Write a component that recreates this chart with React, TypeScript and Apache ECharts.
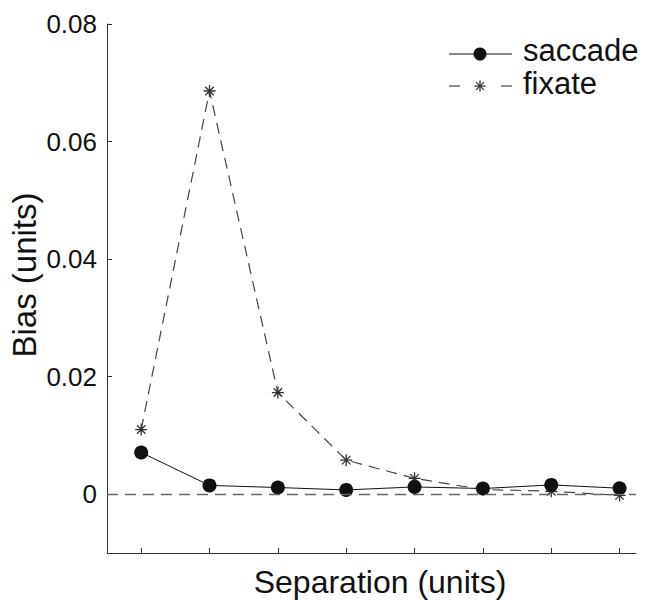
import React, { useEffect, useRef } from "react";
import * as echarts from "echarts";

const separation = [1, 2, 3, 4, 5, 6, 7, 8];
const saccade = [0.0071, 0.0015, 0.00114, 0.00073, 0.00124, 0.00097, 0.00158, 0.00102];
const fixate = [0.011, 0.0686, 0.0173, 0.0058, 0.0027, 0.0008, 0.0005, -0.0002];
const yTicks = [0, 0.02, 0.04, 0.06, 0.08];
const xTicks = [1, 2, 3, 4, 5, 6, 7, 8];
const seriesNames = ["saccade", "fixate"];

const FONT = "'Liberation Sans', Arial, Helvetica, sans-serif";
const STAR = "path://M0,-1L0,1M-1,0L1,0M-0.7071,-0.7071L0.7071,0.7071M-0.7071,0.7071L0.7071,-0.7071";

export default function App() {
  const ref = useRef<HTMLDivElement>(null);
  useEffect(() => {
    if (!ref.current) return;
    const chart = echarts.init(ref.current, null, { renderer: "svg" });
    const sacData = separation.map((x, i) => [x, saccade[i]]);
    const fixData = separation.map((x, i) => [x, fixate[i]]);
    const lx = 449, rx = 512, mx = 480, y1 = 54, y2 = 86;
    const s = 5.5;
    const d = s * 0.7071;
    const starColor = "#333";
    chart.setOption({
      animation: false,
      backgroundColor: "#fff",
      grid: { left: 107, right: 10, top: 24, bottom: 47, containLabel: false },
      xAxis: {
        type: "value",
        min: 0.5,
        max: 8.24,
        axisLine: { show: true, onZero: false, lineStyle: { color: "#333", width: 1 } },
        axisTick: { show: true, inside: true, length: 5, customValues: xTicks, lineStyle: { color: "#333" } },
        axisLabel: { show: false },
        splitLine: { show: false },
      },
      yAxis: {
        type: "value",
        min: -0.01,
        max: 0.08,
        axisLine: { show: true, onZero: false, lineStyle: { color: "#333", width: 1 } },
        axisTick: { show: true, inside: true, length: 5, customValues: yTicks, lineStyle: { color: "#333" } },
        axisLabel: {
          customValues: yTicks,
          margin: 10,
          fontSize: 26,
          color: "#111",
          fontFamily: FONT,
          formatter: (v: number) => (v === 0 ? "0" : v.toFixed(2)),
        },
        splitLine: { show: false },
      },
      series: [
        {
          name: seriesNames[1],
          type: "line",
          data: fixData,
          z: 2,
          symbol: STAR,
          symbolSize: 12,
          showSymbol: true,
          lineStyle: { color: "#444", width: 1.2, type: [11, 7] },
          itemStyle: { color: "none", borderColor: starColor, borderWidth: 1.3 },
          markLine: {
            silent: true,
            symbol: "none",
            label: { show: false },
            lineStyle: { color: "#666", width: 1.4, type: [11, 7] },
            data: [{ yAxis: 0 }],
          },
        },
        {
          name: seriesNames[0],
          type: "line",
          data: sacData,
          z: 3,
          symbol: "circle",
          symbolSize: 14,
          showSymbol: true,
          lineStyle: { color: "#111", width: 1 },
          itemStyle: { color: "#111", borderWidth: 0 },
        },
      ],
      graphic: [
        { type: "line", shape: { x1: lx, y1: y1, x2: rx, y2: y1 }, style: { stroke: "#111", lineWidth: 1 } },
        { type: "circle", shape: { cx: mx, cy: y1, r: 6.5 }, style: { fill: "#111" } },
        { type: "text", x: 523, y: 50, style: { text: seriesNames[0], fontSize: 31, fontFamily: FONT, fill: "#111", textVerticalAlign: "middle" } },
        { type: "line", shape: { x1: lx, y1: y2, x2: lx + 11, y2: y2 }, style: { stroke: "#444", lineWidth: 1.2 } },
        { type: "line", shape: { x1: rx - 11, y1: y2, x2: rx, y2: y2 }, style: { stroke: "#444", lineWidth: 1.2 } },
        { type: "line", shape: { x1: mx - s, y1: y2, x2: mx + s, y2: y2 }, style: { stroke: starColor, lineWidth: 1.3 } },
        { type: "line", shape: { x1: mx, y1: y2 - s, x2: mx, y2: y2 + s }, style: { stroke: starColor, lineWidth: 1.3 } },
        { type: "line", shape: { x1: mx - d, y1: y2 - d, x2: mx + d, y2: y2 + d }, style: { stroke: starColor, lineWidth: 1.3 } },
        { type: "line", shape: { x1: mx - d, y1: y2 + d, x2: mx + d, y2: y2 - d }, style: { stroke: starColor, lineWidth: 1.3 } },
        { type: "text", x: 523, y: 83, style: { text: seriesNames[1], fontSize: 31, fontFamily: FONT, fill: "#111", textVerticalAlign: "middle" } },
        { type: "text", x: 380, y: 582, style: { text: "Separation (units)", fontSize: 32, fontFamily: FONT, fill: "#111", textAlign: "center", textVerticalAlign: "middle" } },
        { type: "text", x: 24, y: 275, rotation: Math.PI / 2, style: { text: "Bias (units)", fontSize: 33, fontFamily: FONT, fill: "#111", textAlign: "center", textVerticalAlign: "middle" } },
      ],
    });
    return () => chart.dispose();
  }, []);
  return <div ref={ref} style={{ position: "fixed", left: 0, top: 0, width: 646, height: 600 }} />;
}
